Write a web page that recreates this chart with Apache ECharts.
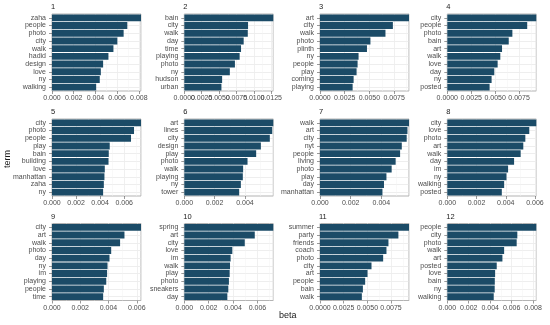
<!DOCTYPE html>
<html><head><meta charset="utf-8">
<script src="https://cdn.jsdelivr.net/npm/echarts@6/dist/echarts.min.js"></script>
<style>html,body{margin:0;padding:0;background:#fff}#c{width:550px;height:325px}</style>
</head><body><div id="c"></div>
<script>
const topics = ['1','2','3','4','5','6','7','8','9','10','11','12'];
const terms1 = ['zaha','people','photo','city','walk','hadid','design','love','ny','walking'];
const beta1 = [0.0082,0.00694,0.0066,0.00602,0.00566,0.0052,0.00471,0.0045,0.0044,0.00407];
const ticks1 = [0,0.002,0.004,0.006,0.008];
const terms2 = ['bain','city','walk','day','time','playing','photo','ny','hudson','urban'];
const beta2 = [0.0128,0.00917,0.00913,0.00854,0.00816,0.00796,0.00728,0.00655,0.00544,0.00534];
const ticks2 = [0,0.0025,0.005,0.0075,0.01,0.0125];
const terms3 = ['art','city','walk','photo','plinth','ny','people','play','coming','playing'];
const beta3 = [0.0090,0.00737,0.00662,0.0051,0.00475,0.0039,0.0038,0.0037,0.0034,0.0033];
const ticks3 = [0,0.0025,0.005,0.0075];
const terms4 = ['city','people','photo','bain','art','walk','love','day','ny','posted'];
const beta4 = [0.0093,0.00835,0.0068,0.00642,0.00572,0.00554,0.00526,0.00491,0.00463,0.00442];
const ticks4 = [0,0.0025,0.005,0.0075];
const terms5 = ['city','photo','people','play','bain','building','love','manhattan','zaha','ny'];
const beta5 = [0.0074,0.00682,0.00657,0.0048,0.00472,0.0047,0.00439,0.00436,0.00431,0.00425];
const ticks5 = [0,0.002,0.004,0.006];
const terms6 = ['art','lines','city','design','play','photo','walk','playing','ny','tower'];
const beta6 = [0.00587,0.0058,0.00564,0.00505,0.00474,0.00417,0.00388,0.00386,0.00373,0.00362];
const ticks6 = [0,0.002,0.004];
const terms7 = ['walk','art','city','nyt','people','living','photo','play','day','manhattan'];
const beta7 = [0.0058,0.0057,0.00565,0.00533,0.00522,0.00493,0.00467,0.00433,0.00417,0.00407];
const ticks7 = [0,0.002,0.004];
const terms8 = ['city','love','photo','art','walk','day','im','ny','walking','posted'];
const beta8 = [0.00609,0.00561,0.00534,0.0052,0.00502,0.00457,0.00416,0.00405,0.00389,0.00373];
const ticks8 = [0,0.002,0.004,0.006];
const terms9 = ['city','art','walk','photo','day','ny','im','playing','people','time'];
const beta9 = [0.0063,0.00513,0.00482,0.00419,0.00407,0.00393,0.0039,0.00384,0.00367,0.00362];
const ticks9 = [0,0.002,0.004,0.006];
const terms10 = ['spring','art','city','love','im','walk','play','photo','sneakers','day'];
const beta10 = [0.0073,0.00578,0.00496,0.00394,0.0038,0.00375,0.00372,0.00366,0.00361,0.00353];
const ticks10 = [0,0.002,0.004,0.006];
const terms11 = ['summer','party','friends','coach','photo','city','art','people','bain','walk'];
const beta11 = [0.0094,0.00828,0.00723,0.00702,0.00667,0.00544,0.00502,0.00477,0.00453,0.00442];
const ticks11 = [0,0.0025,0.005,0.0075];
const terms12 = ['people','city','photo','walk','art','posted','love','bain','ny','walking'];
const beta12 = [0.0083,0.00653,0.00647,0.0053,0.00514,0.00461,0.00446,0.00443,0.00442,0.00433];
const ticks12 = [0,0.002,0.004,0.006,0.008];

const allTerms = [terms1,terms2,terms3,terms4,terms5,terms6,terms7,terms8,terms9,terms10,terms11,terms12];
const allBeta = [beta1,beta2,beta3,beta4,beta5,beta6,beta7,beta8,beta9,beta10,beta11,beta12];
const allTicks = [ticks1,ticks2,ticks3,ticks4,ticks5,ticks6,ticks7,ticks8,ticks9,ticks10,ticks11,ticks12];

const colLeft = [52, 184.3, 320, 447.3];
const colWidth = 89;
const rowTop = [14, 119, 223.5];
const rowHeight = 77;
const FONT = '"Liberation Sans", Arial, sans-serif';
const BAR = '#1b4b67';

const grid = [], xAxis = [], yAxis = [], series = [], graphic = [];
const labelBase = {show: true, fontSize: 7, color: '#4d4d4d', fontFamily: FONT, margin: 4,
  hideOverlap: false, showMinLabel: true, showMaxLabel: true};
topics.forEach((t, i) => {
  const r = Math.floor(i / 4), c = i % 4;
  const ticks = allTicks[i];
  const step = ticks[1] - ticks[0];
  const dec = step < 0.0025 ? 3 : 4;
  const mx = Math.max.apply(null, allBeta[i]);
  const evenTicks = ticks.filter((v, k) => k % 2 === 0);
  grid.push({left: colLeft[c], top: rowTop[r], width: colWidth, height: rowHeight,
    show: true, borderColor: '#b3b3b3', borderWidth: 1, backgroundColor: '#fff', containLabel: false});
  xAxis.push({type: 'value', gridIndex: i, min: 0, max: mx, interval: step, position: 'bottom',
    axisLine: {show: false},
    axisTick: {show: true, length: 3, lineStyle: {color: '#555', width: 0.6}, customValues: ticks},
    axisLabel: Object.assign({}, labelBase, {customValues: evenTicks, formatter: v => v.toFixed(dec)}),
    splitLine: {show: true, lineStyle: {color: '#e3e3e3', width: 0.6}}});
  yAxis.push({type: 'category', gridIndex: i, inverse: true, data: allTerms[i],
    axisLine: {show: false},
    axisTick: {show: true, length: 3, interval: 0, alignWithLabel: true, lineStyle: {color: '#555', width: 0.6}},
    axisLabel: {fontSize: 7, color: '#4d4d4d', fontFamily: FONT, margin: 6, interval: 0, hideOverlap: false},
    splitLine: {show: true, interval: 0, alignWithLabel: true, lineStyle: {color: '#e3e3e3', width: 0.6}}});
  series.push({type: 'bar', xAxisIndex: i, yAxisIndex: i, data: allBeta[i],
    barCategoryGap: '10%', itemStyle: {color: BAR}, silent: true, animation: false});
  graphic.push({type: 'text', left: colLeft[c] - 1, top: rowTop[r] - 11,
    style: {text: t, fontSize: 7.5, fill: '#1a1a1a', fontFamily: FONT}});
});
topics.forEach((t, i) => {
  const ticks = allTicks[i];
  const step = ticks[1] - ticks[0];
  const dec = step < 0.0025 ? 3 : 4;
  const mx = Math.max.apply(null, allBeta[i]);
  const oddTicks = ticks.filter((v, k) => k % 2 === 1);
  xAxis.push({type: 'value', gridIndex: i, min: 0, max: mx, interval: step / 2, position: 'bottom', offset: 0,
    axisLine: {show: false}, axisTick: {show: false},
    axisLabel: Object.assign({}, labelBase, {customValues: oddTicks, formatter: v => v.toFixed(dec)}),
    splitLine: {show: true, lineStyle: {color: '#f2f2f2', width: 0.5}}, z: 0});
});
graphic.push({type: 'text', left: 3, top: 150, rotation: Math.PI / 2,
  style: {text: 'term', fontSize: 9, fill: '#1a1a1a', fontFamily: FONT}});
graphic.push({type: 'text', left: 279, top: 311,
  style: {text: 'beta', fontSize: 9, fill: '#1a1a1a', fontFamily: FONT}});

const chart = echarts.init(document.getElementById('c'), null, {renderer: 'canvas'});
chart.setOption({animation: false, grid, xAxis, yAxis, series, graphic});
</script></body></html>
